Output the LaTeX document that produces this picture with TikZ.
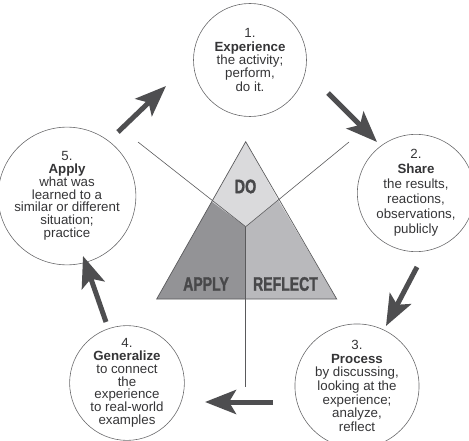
\documentclass[tikz,border=0pt]{standalone}
\usepackage{fontspec}
\setmainfont{Liberation Sans}
\newfontfamily\cornerfont{Liberation Sans}[BoldFeatures={FakeBold=1.6}]
\usetikzlibrary{arrows.meta}
\definecolor{inkgray}{HTML}{353537}
\definecolor{rimgray}{HTML}{6A6A6C}
\definecolor{arrowgray}{HTML}{4E4E50}
\definecolor{linegray}{HTML}{5A5A5C}
\definecolor{labelgray}{HTML}{48484A}
\definecolor{dofill}{HTML}{DADADC}
\definecolor{applyfill}{HTML}{939396}
\definecolor{reflectfill}{HTML}{B9B9BC}

\begin{document}
\begin{tikzpicture}[x=1pt,y=-1pt,
    stage/.style={circle,draw=rimgray,line width=0.6pt,minimum size=113pt,inner sep=0pt,
        align=center,text=inkgray,font=\fontsize{13.3}{13.4}\selectfont},
    cyclearrow/.style={draw=arrowgray,line width=5pt,-{Stealth[length=31pt,width=24pt,inset=7pt]}},
    spoke/.style={draw=linegray,line width=0.6pt},
    corner/.style={text=labelgray,font=\fontsize{19.5}{19.5}\cornerfont\bfseries}]
    \useasboundingbox (0,0) rectangle (469,441);
    % the five stages
    \node[stage] (exp) at (250,60) {1.\\\textbf{Experience}\\the activity;\\perform,\\do it.};
    \node[stage,font=\fontsize{13.3}{15}\selectfont] (shr) at (416,193) {2.\\\textbf{Share}\\the results,\\reactions,\\observations,\\publicly};
    \node[stage,font=\fontsize{13.3}{13.7}\selectfont] (prc) at (357,386) {3.\\\textbf{Process}\\by discussing,\\looking at the\\experience;\\analyze,\\reflect};
    \node[stage,font=\fontsize{13.3}{12.8}\selectfont] (gen) at (127,383) {4.\\\textbf{Generalize}\\to connect\\the\\experience\\to real-world\\examples};
    \node[stage,font=\fontsize{13.3}{12.8}\selectfont] (app) at (67,196) {5.\\\textbf{Apply}\\what was\\learned to a\\similar or different\\situation;\\practice};
    % arrow ends
    \coordinate (a5) at (118,132);
    \coordinate (a1) at (166,86);
    \coordinate (b1) at (328,93);
    \coordinate (b2) at (377,142);
    \coordinate (c2) at (417,267);
    \coordinate (c3) at (386,326);
    \coordinate (d3) at (273,402);
    \coordinate (d4) at (205,402);
    \coordinate (e4) at (106,322);
    \coordinate (e5) at (83,256);
    \draw[cyclearrow] (a5) -- (a1);
    \draw[cyclearrow] (b1) -- (b2);
    \draw[cyclearrow] (c2) -- (c3);
    \draw[cyclearrow] (d3) -- (d4);
    \draw[cyclearrow] (e4) -- (e5);
    % triangle
    \coordinate (top) at (245.7,141.7);
    \coordinate (bl) at (156.7,299);
    \coordinate (br) at (336.7,299);
    \coordinate (mid) at (245.7,226.7);
    \coordinate (ls) at (211.7,201.7);
    \coordinate (rs) at (278.5,200.5);
    \coordinate (bs) at (245.7,299);
    \fill[dofill] (top) -- (rs) -- (mid) -- (ls) -- cycle;
    \fill[applyfill] (ls) -- (mid) -- (bs) -- (bl) -- cycle;
    \fill[reflectfill] (rs) -- (br) -- (bs) -- (mid) -- cycle;
    \draw[linegray,line width=0.7pt] (top) -- (bl) -- (br) -- cycle;
    % spokes
    \coordinate (ul) at (138,142);
    \coordinate (ur) at (349,142);
    \coordinate (dn) at (245.7,387);
    \draw[spoke] (mid) -- (ul);
    \draw[spoke] (mid) -- (ur);
    \draw[spoke] (mid) -- (dn);
    \node[corner] (do) at (245.5,186.5) {\scalebox{0.74}[1]{DO}};
    \node[corner] (apply) at (206,284) {\scalebox{0.72}[1]{APPLY}};
    \node[corner] (reflect) at (285.5,284) {\scalebox{0.72}[1]{REFLECT}};
\end{tikzpicture}
\end{document}
